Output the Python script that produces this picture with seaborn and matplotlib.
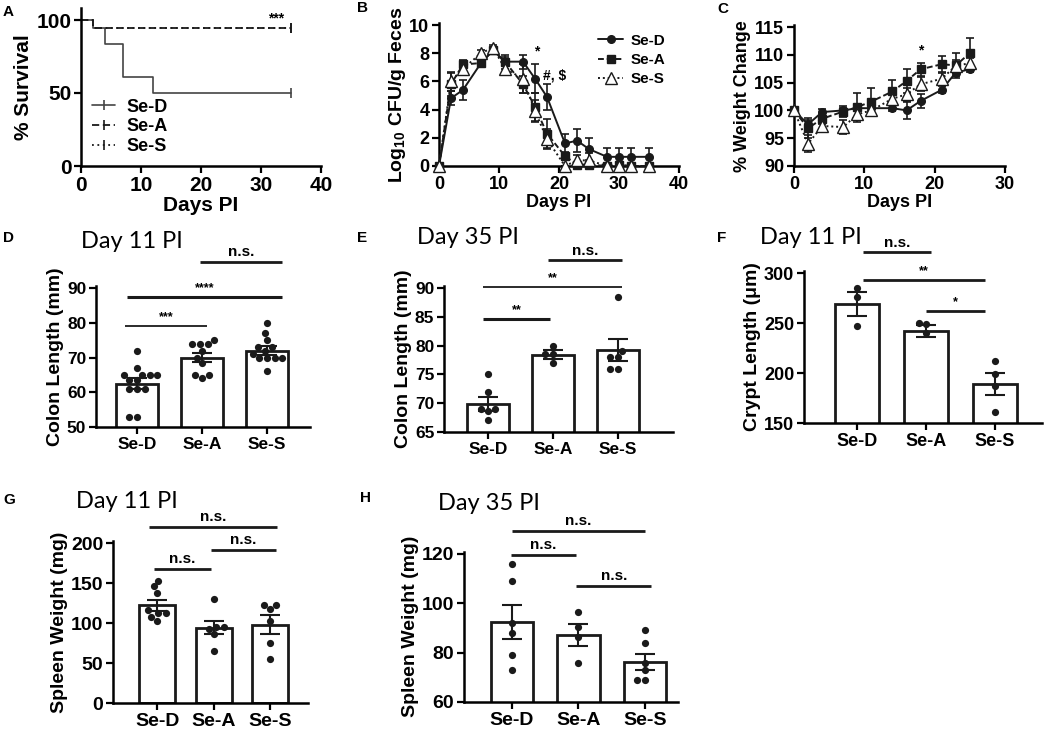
import numpy as np
import pandas as pd
import matplotlib
matplotlib.use("Agg")
import matplotlib.pyplot as plt
import seaborn as sns

sns.set_theme(style="ticks")
plt.rcParams["font.family"] = ["Liberation Sans", "DejaVu Sans"]
plt.rcParams["font.weight"] = "bold"
plt.rcParams["axes.labelweight"] = "bold"
plt.rcParams["mathtext.fontset"] = "custom"
plt.rcParams["mathtext.bf"] = "Liberation Sans:bold"
plt.rcParams["mathtext.rm"] = "Liberation Sans:bold"
plt.rcParams["axes.linewidth"] = 1.8
for key in ["text.color", "axes.labelcolor", "axes.edgecolor", "xtick.color", "ytick.color"]:
    plt.rcParams[key] = "black"

groups = ["Se-D", "Se-A", "Se-S"]

# ---- A: survival ----
surv_days_sed = [0, 2, 4, 7, 12, 35]
surv_sed = [100, 94.4, 83.3, 61.1, 50, 50]
surv_days_sea = [0, 2, 35]
surv_sea = [100, 94.4, 94.4]
surv_days_ses = [0, 2, 35]
surv_ses = [100, 94.4, 94.4]

# ---- B: CFU in feces ----
cfu_days = [0, 2, 4, 7, 9, 11, 14, 16, 18, 21, 23, 25, 28, 30, 32, 35]
cfu_sed = [0, 4.8, 5.4, 7.3, 8.2, 7.4, 7.4, 6.2, 4.9, 1.6, 1.8, 1.2, 0.65, 0.65, 0.65, 0.65]
cfu_sed_err = [0, 0.5, 0.7, 0.3, 0.2, 0.5, 0.5, 1.0, 0.9, 0.7, 0.8, 0.8, 0.65, 0.65, 0.65, 0.65]
cfu_sea = [0, 5.8, 7.2, 7.3, 8.2, 7.4, 5.8, 4.2, 2.3, 0.7, 0.1, 0.1, 0, 0.1, 0, 0]
cfu_sea_err = [0, 0.8, 0.3, 0.3, 0.2, 0.3, 0.6, 1.0, 1.0, 0.3, 0.2, 0.2, 0, 0.1, 0, 0]
cfu_ses = [0, 6.0, 6.9, 8.0, 8.4, 6.9, 6.2, 3.9, 1.9, 0, 0.4, 0.4, 0, 0, 0, 0]
cfu_ses_err = [0, 0.7, 0.4, 0.2, 0.2, 0.3, 1.0, 0.8, 0.7, 0, 0.4, 0.5, 0.1, 0.1, 0.1, 0.1]

# ---- C: weight change ----
wt_days = [0, 2, 4, 7, 9, 11, 14, 16, 18, 21, 23, 25]
wt_sed = [100, 97.5, 99.7, 100.0, 100.4, 100.4, 100.4, 100.0, 101.7, 103.7, 106.8, 107.4]
wt_sed_err = [0, 0.8, 0.6, 0.5, 0.5, 0.5, 0.5, 1.5, 1.2, 0.6, 0.6, 0.5]
wt_sea = [100, 96.8, 98.5, 99.8, 100.6, 101.6, 103.4, 105.3, 107.4, 108.3, 108.1, 110.3]
wt_sea_err = [0, 1.8, 1.0, 1.0, 2.6, 2.4, 2.1, 2.1, 1.2, 1.4, 2.3, 2.8]
wt_ses = [100, 94.0, 97.2, 97.0, 99.3, 100.0, 102.1, 102.9, 104.7, 105.7, 108.0, 108.5]
wt_ses_err = [0, 1.5, 0.8, 1.3, 1.0, 1.0, 1.2, 1.2, 1.3, 1.1, 1.1, 1.0]

# ---- D: colon length day 11 ----
colon11_mean = [62.5, 70.0, 72.0]
colon11_sem = [1.5, 1.3, 1.2]
colon11_sed = [72, 67, 65, 65, 65, 65, 63.5, 63.5, 61, 61, 61, 53, 53]
colon11_sea = [74, 74, 75, 74, 72, 70, 68.5, 65, 65, 64]
colon11_ses = [80, 77, 75, 73, 73, 72, 71, 70, 70, 70, 70, 66]

# ---- E: colon length day 35 ----
colon35_mean = [69.9, 78.4, 79.2]
colon35_sem = [1.25, 0.8, 1.95]
colon35_sed = [75, 72, 69, 69, 68.7, 67]
colon35_sea = [80, 78.5, 78.5, 77]
colon35_ses = [88.5, 79, 78, 78, 76, 76]

# ---- F: crypt length day 11 ----
crypt_mean = [269, 242, 189]
crypt_sem = [11.7, 6.0, 11.0]
crypt_sed = [285, 276, 247]
crypt_sea = [250, 249, 240]
crypt_ses = [212, 199, 187, 161]

# ---- G: spleen weight day 11 ----
spleen11_mean = [122, 94, 98]
spleen11_sem = [7, 8, 12]
spleen11_sed = [153, 146, 138, 116, 113, 112, 108, 102]
spleen11_sea = [130, 95, 95, 93, 86, 65]
spleen11_ses = [123, 123, 117, 103, 75, 55]

# ---- H: spleen weight day 35 ----
spleen35_mean = [92.5, 87.2, 76.2]
spleen35_sem = [6.8, 4.3, 3.4]
spleen35_sed = [116, 109, 92, 88, 79, 73]
spleen35_sea = [96.5, 90.5, 86.5, 76]
spleen35_ses = [89, 84, 76, 73, 69, 69]

W, H = 1046, 735
fig = plt.figure(figsize=(W / 100, H / 100), dpi=100)


def add_ax(left, right, bottom, top):
    return fig.add_axes([left / W, 1 - bottom / H, (right - left) / W, (bottom - top) / H])


def style_ax(ax, size):
    sns.despine(ax=ax)
    ax.tick_params(axis="both", direction="out", length=5, width=1.6, labelsize=size, pad=2)


def sig(ax, text, x0, x1, y, lw=2.0, size=11):
    ax.plot([x0, x1], [y, y], color="k", lw=lw, clip_on=False, solid_capstyle="butt")
    ax.annotate(text, xy=((x0 + x1) / 2, y), xytext=(0, 2), textcoords="offset points",
                ha="center", va="bottom", fontsize=size, fontweight="bold", annotation_clip=False)


def panel_letter(x, y, s):
    fig.text(x / W, 1 - y / H, s, fontsize=11, fontweight="bold", ha="left", va="center")


def title(x, y, s):
    fig.text(x / W, 1 - y / H, s, family="Lato", fontweight="normal", fontsize=17,
             ha="center", va="center")


# ================= A =================
axA = add_ax(81, 321, 166, 166 - 108 * 1.46)
sns.lineplot(x=surv_days_sed, y=surv_sed, ax=axA, color="#444444", lw=1.2, drawstyle="steps-post",
             marker="|", markevery=[-1], markersize=7, mec="#444444", mew=1.2, label="Se-D", errorbar=None)
sns.lineplot(x=surv_days_sea, y=surv_sea, ax=axA, color="k", lw=1.3, linestyle=(0, (4, 2)),
             drawstyle="steps-post", marker="|", markevery=[-1], markersize=7, mec="k", mew=1.2,
             label="Se-A", errorbar=None)
sns.lineplot(x=surv_days_ses, y=surv_ses, ax=axA, color="k", lw=1.3, linestyle=(0, (1, 2)),
             drawstyle="steps-post", marker="|", markevery=[-1], markersize=7, mec="k", mew=1.2,
             label="Se-S", errorbar=None)
axA.set_xlim(0, 40)
axA.set_ylim(0, 108)
axA.set_xticks([0, 10, 20, 30, 40])
axA.set_yticks([0, 50, 100])
axA.set_xlabel("Days PI", fontsize=15, labelpad=1)
axA.set_ylabel("% Survival", fontsize=15, labelpad=2)
style_ax(axA, 15)
axA.text(32.5, 96, "***", fontsize=10, fontweight="bold", ha="center", va="bottom")
legA = axA.legend(loc="lower left", bbox_to_anchor=(0.0, 0.0), frameon=False, fontsize=13,
                  handlelength=1.3, handletextpad=0.6, labelspacing=0.15, borderaxespad=0.2)
for t in legA.get_texts():
    t.set_fontweight("bold")
panel_letter(3, 12, "A")

# ================= B =================
axB = add_ax(439, 679, 166, 166 - 10.15 * 14.1)
series_b = [(cfu_sed, cfu_sed_err, "o", "k", "-", "Se-D"),
            (cfu_sea, cfu_sea_err, "s", "k", (0, (3, 1.5)), "Se-A"),
            (cfu_ses, cfu_ses_err, "^", "white", (0, (1, 1.5)), "Se-S")]
for vals, errs, mk, fc, ls, lab in series_b:
    axB.errorbar(cfu_days, vals, yerr=errs, fmt="none", ecolor="k", elinewidth=1.2,
                 capsize=3, capthick=1.2, clip_on=False, zorder=2)
    sns.lineplot(x=cfu_days, y=vals, ax=axB, color="k", lw=1.4, linestyle=ls, marker=mk,
                 markersize=5.5 if mk != "^" else 8, mfc=fc, mec="k", mew=1.0, label=lab,
                 errorbar=None, clip_on=False, zorder=3)
axB.set_xlim(0, 40)
axB.set_ylim(0, 10.15)
axB.set_xticks([0, 10, 20, 30, 40])
axB.set_yticks([0, 2, 4, 6, 8, 10])
axB.set_xlabel("Days PI", fontsize=13, labelpad=1)
axB.set_ylabel(r"Log$_{\mathbf{10}}$ CFU/g Feces", fontsize=14, labelpad=1)
style_ax(axB, 13)
axB.text(16.3, 7.6, "*", fontsize=10, fontweight="bold", ha="center", va="bottom")
axB.text(17.3, 6.4, "#, $", fontsize=10, fontweight="bold", ha="left", va="center")
legB = axB.legend(loc="upper right", bbox_to_anchor=(1.0, 1.02), frameon=False, fontsize=11,
                  handlelength=1.6, handletextpad=0.5, labelspacing=0.35)
for t in legB.get_texts():
    t.set_fontweight("bold")
panel_letter(357, 8, "B")

# ================= C =================
axC = add_ax(794, 1005, 166, 166 - 25.3 * 5.56)
series_c = [(wt_sed, wt_sed_err, "o", "k", "-", "Se-D"),
            (wt_sea, wt_sea_err, "s", "k", (0, (3, 1.5)), "Se-A"),
            (wt_ses, wt_ses_err, "^", "white", (0, (1, 1.5)), "Se-S")]
for vals, errs, mk, fc, ls, lab in series_c:
    axC.errorbar(wt_days, vals, yerr=errs, fmt="none", ecolor="k", elinewidth=1.2,
                 capsize=3, capthick=1.2, clip_on=False, zorder=2)
    sns.lineplot(x=wt_days, y=vals, ax=axC, color="k", lw=1.4, linestyle=ls, marker=mk,
                 markersize=5.5 if mk != "^" else 8, mfc=fc, mec="k", mew=1.0,
                 errorbar=None, clip_on=False, zorder=3, legend=False)
axC.set_xlim(0, 30)
axC.set_ylim(90, 115.3)
axC.set_xticks([0, 10, 20, 30])
axC.set_yticks([90, 95, 100, 105, 110, 115])
axC.set_xlabel("Days PI", fontsize=13, labelpad=1)
axC.set_ylabel("% Weight Change", fontsize=13, labelpad=2)
style_ax(axC, 13)
axC.text(18, 109.5, "*", fontsize=10, fontweight="bold", ha="center", va="bottom")
panel_letter(717, 9, "C")


# ================= bar panels =================
def bar_panel(ax, means, sems, pts, xlim, ylim, yticks, ylabel, tsize, lsize):
    sns.barplot(x=groups, y=means, ax=ax, color="white", edgecolor="k", linewidth=2,
                width=0.64, saturation=1, errorbar=None, zorder=1)
    ax.errorbar([0, 1, 2], means, yerr=sems, fmt="none", ecolor="k", elinewidth=1.5,
                capsize=7, capthick=1.5, zorder=4)
    df = pd.DataFrame({"group": sum([[g] * len(p) for g, p in zip(groups, pts)], []),
                       "val": sum([list(p) for p in pts], [])})
    n_before = len(ax.collections)
    # lay the swarm out with generous spacing, then shrink the dots (Prism-like gaps)
    sns.swarmplot(data=df, x="group", y="val", order=groups, color="k", size=8, ax=ax, zorder=5)
    for coll in ax.collections[n_before:]:
        coll.set_sizes([5.2 ** 2])
    ax.set_xlim(*xlim)
    ax.set_ylim(*ylim)
    ax.set_yticks(yticks)
    ax.set_xlabel("")
    ax.set_ylabel(ylabel, fontsize=lsize, labelpad=2)
    style_ax(ax, tsize)


axD = add_ax(96, 310, 427, 427 - 40.5 * 3.475)
bar_panel(axD, colon11_mean, colon11_sem, [colon11_sed, colon11_sea, colon11_ses],
          (-0.63, 2.66), (50, 90.5), [50, 60, 70, 80, 90], "Colon Length (mm)", 12.5, 14)
sig(axD, "***", -0.18, 1.07, 79.2, lw=1.3, size=9)
sig(axD, "****", -0.16, 2.23, 87.4, lw=2.2, size=9)
sig(axD, "n.s.", 0.97, 2.23, 97.5, lw=2.0, size=11)
panel_letter(3, 238, "D")
title(132, 242, "Day 11 PI")

axE = add_ax(444, 673, 432, 432 - 25.3 * 5.76)
bar_panel(axE, colon35_mean, colon35_sem, [colon35_sed, colon35_sea, colon35_ses],
          (-0.68, 2.85), (65, 90.3), [65, 70, 75, 80, 85, 90], "Colon Length (mm)", 12.5, 14)
sig(axE, "**", -0.08, 0.95, 84.65, lw=2.2, size=9)
sig(axE, "**", -0.08, 2.07, 90.1, lw=1.3, size=9)
sig(axE, "n.s.", 0.92, 2.07, 94.8, lw=2.0, size=11)
panel_letter(357, 238, "E")
title(468, 238, "Day 35 PI")

axF = add_ax(804, 1042, 423, 423 - 152)
bar_panel(axF, crypt_mean, crypt_sem, [crypt_sed, crypt_sea, crypt_ses],
          (-0.77, 2.68), (150, 302), [150, 200, 250, 300], "Crypt Length (\u03bcm)", 13, 14)
sig(axF, "n.s.", 0.08, 1.07, 320.7, lw=2.0, size=11)
sig(axF, "**", 0.08, 1.86, 293.3, lw=2.0, size=9)
sig(axF, "*", 1.0, 1.86, 261.7, lw=2.0, size=9)
panel_letter(717, 238, "F")
title(811, 238, "Day 11 PI")

axG = add_ax(113, 308, 703, 703 - 202 * 0.8)
bar_panel(axG, spleen11_mean, spleen11_sem, [spleen11_sed, spleen11_sea, spleen11_ses],
          (-0.78, 2.67), (0, 202), [0, 50, 100, 150, 200], "Spleen Weight (mg)", 14, 14)
sig(axG, "n.s.", -0.05, 0.95, 167.5, lw=2.0, size=11)
sig(axG, "n.s.", 0.95, 2.11, 191.7, lw=2.0, size=11)
sig(axG, "n.s.", -0.15, 2.13, 220, lw=2.0, size=11)
panel_letter(3, 500, "G")
title(127, 502, "Day 11 PI")

axH = add_ax(464, 678, 702, 702 - 61 * 2.467)
bar_panel(axH, spleen35_mean, spleen35_sem, [spleen35_sed, spleen35_sea, spleen35_ses],
          (-0.72, 2.5), (60, 121), [60, 80, 100, 120], "Spleen Weight (mg)", 14, 14)
sig(axH, "n.s.", -0.02, 0.96, 119.6, lw=2.0, size=11)
sig(axH, "n.s.", 0.97, 2.1, 107, lw=2.0, size=11)
sig(axH, "n.s.", 0.0, 2.01, 129.3, lw=2.0, size=11)
panel_letter(360, 498, "H")
title(489, 503, "Day 35 PI")

fig.canvas.draw()
for ax in fig.axes:
    for lab in ax.get_xticklabels() + ax.get_yticklabels():
        lab.set_fontweight("bold")

fig.savefig("out.png", dpi=100)
